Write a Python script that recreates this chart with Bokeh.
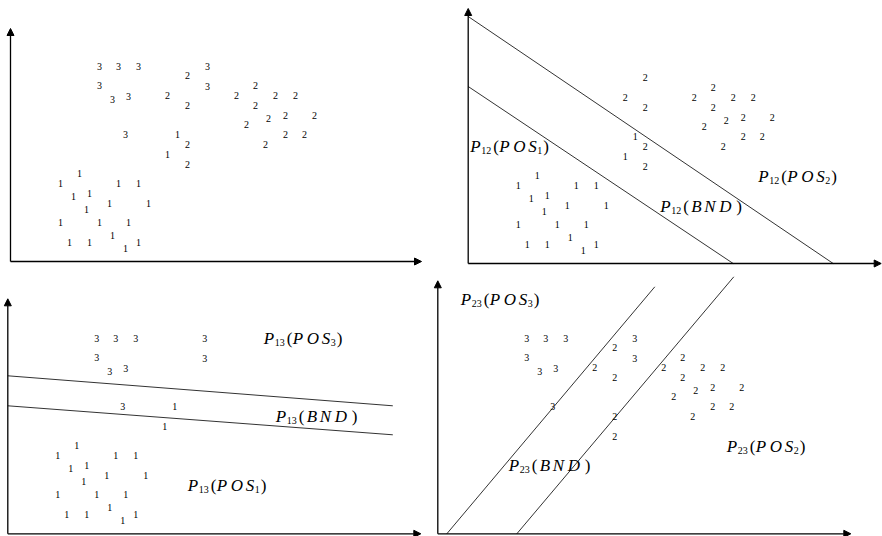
import numpy as np
from bokeh.plotting import figure
from bokeh.models import Range1d, Arrow, NormalHead, ColumnDataSource
from bokeh.core.properties import value
from bokeh.embed import file_html
from bokeh.resources import INLINE

# Sample positions in feature space: x measured right of the vertical axis,
# y measured up from the horizontal axis.
class1_x = [167, 157, 69, 50, 108, 128, 63, 79, 99, 138, 76, 50, 89, 118, 59, 79, 102, 115, 128]
class1_y = [127, 107, 88, 78, 78, 78, 65, 68, 58, 58, 52, 39, 39, 39, 19, 19, 26, 13, 19]

class2_x = [177, 157, 177, 177, 177, 226, 245, 265, 285, 245, 258, 275, 304, 236, 275, 294, 255]
class2_y = [186, 166, 156, 117, 97, 166, 176, 166, 166, 156, 143, 146, 146, 137, 127, 127, 117]

class3_x = [89, 108, 128, 89, 102, 118, 115, 197, 197]
class3_y = [195, 195, 195, 176, 162, 165, 127, 195, 175]

# Boundary lines of each pairwise decision (two endpoints each)
p12_upper = [(0, 247), (365, 0)]
p12_lower = [(0, 177), (265, 0)]
p13_upper = [(0, 158), (385, 128)]
p13_lower = [(0, 128), (385, 99)]
p23_left = [(9, 0), (217, 247)]
p23_right = [(79, 0), (296, 257)]

# Region labels: (subscript pair, region letters, region subscript, x, y)
p12_labels = [("12", "POS", "1", 2, 117), ("12", "BND", "", 192, 57), ("12", "POS", "2", 290, 87)]
p13_labels = [("13", "POS", "3", 256, 195), ("13", "BND", "", 268, 117), ("13", "POS", "1", 180, 48)]
p23_labels = [("23", "POS", "3", 23, 234), ("23", "BND", "", 71, 68), ("23", "POS", "2", 289, 87)]

classes = {
    "1": (class1_x, class1_y),
    "2": (class2_x, class2_y),
    "3": (class3_x, class3_y),
}

# panel layout: origin on the page, axis lengths, classes shown, boundaries, labels
panels = [
    dict(origin=(10, 261), xlen=411, ylen=233, show="123", lines=[], labels=[]),
    dict(origin=(467.7, 263), xlen=413, ylen=255, show="12",
         lines=[p12_upper, p12_lower], labels=p12_labels),
    dict(origin=(7.3, 533.3), xlen=413, ylen=235, show="13",
         lines=[p13_upper, p13_lower], labels=p13_labels),
    dict(origin=(437.3, 533.3), xlen=413, ylen=253, show="23",
         lines=[p23_left, p23_right], labels=p23_labels),
]

W, H = 882, 536
p = figure(width=W, height=H, x_range=Range1d(0, W), y_range=Range1d(H, 0),
           output_backend="svg", toolbar_location=None, min_border=0)
p.axis.visible = False
p.grid.visible = False
p.outline_line_color = None
p.background_fill_color = "white"
p.border_fill_color = "white"

SERIF = value("Liberation Serif")

pt_x, pt_y, pt_t = [], [], []
ital = dict(x=[], y=[], text=[])
norm = dict(x=[], y=[], text=[])
subs = dict(x=[], y=[], text=[])

letter_offsets = {"POS": [29, 43, 58], "BND": [31, 44, 59]}

for pan in panels:
    ox, oy = pan["origin"]
    # axes with arrow heads
    p.add_layout(Arrow(x_start=ox, y_start=oy, x_end=ox, y_end=oy - pan["ylen"],
                       line_color="black", line_width=1.3,
                       end=NormalHead(size=7, fill_color="black", line_color="black")))
    p.add_layout(Arrow(x_start=ox, y_start=oy, x_end=ox + pan["xlen"], y_end=oy,
                       line_color="black", line_width=1.3,
                       end=NormalHead(size=7, fill_color="black", line_color="black")))
    # sample digits
    for c in pan["show"]:
        xs, ys = classes[c]
        pt_x += list(ox + np.array(xs, dtype=float))
        pt_y += list(oy - np.array(ys, dtype=float))
        pt_t += [c] * len(xs)
    # decision boundaries
    for (x0, y0), (x1, y1) in pan["lines"]:
        p.line([ox + x0, ox + x1], [oy - y0, oy - y1], line_color="#333333", line_width=1)
    # region labels such as P12(POS1)
    for sub, letters, lsub, lx, ly in pan["labels"]:
        x0, y0 = ox + lx, oy - ly
        ital["x"].append(x0); ital["y"].append(y0); ital["text"].append("P")
        subs["x"].append(x0 + 11); subs["y"].append(y0 + 4); subs["text"].append(sub)
        norm["x"].append(x0 + 23); norm["y"].append(y0); norm["text"].append("(")
        for ch, off in zip(letters, letter_offsets[letters]):
            ital["x"].append(x0 + off); ital["y"].append(y0); ital["text"].append(ch)
        if lsub:
            subs["x"].append(x0 + 67); subs["y"].append(y0 + 4); subs["text"].append(lsub)
            close = x0 + 73
        else:
            close = x0 + 76
        norm["x"].append(close); norm["y"].append(y0); norm["text"].append(")")

p.text(x="x", y="y", text="t", source=ColumnDataSource(dict(x=pt_x, y=pt_y, t=pt_t)),
       text_font=SERIF, text_font_size="10px", text_color="black",
       text_align="center", text_baseline="middle")

p.text(x="x", y="y", text="text", source=ColumnDataSource(ital),
       text_font=SERIF, text_font_size="17px", text_font_style="italic",
       text_color="black", text_align="left", text_baseline="alphabetic")
p.text(x="x", y="y", text="text", source=ColumnDataSource(norm),
       text_font=SERIF, text_font_size="17px",
       text_color="black", text_align="left", text_baseline="alphabetic")
p.text(x="x", y="y", text="text", source=ColumnDataSource(subs),
       text_font=SERIF, text_font_size="10px",
       text_color="black", text_align="left", text_baseline="alphabetic")

open("out.html", "w").write(file_html(p, INLINE))
